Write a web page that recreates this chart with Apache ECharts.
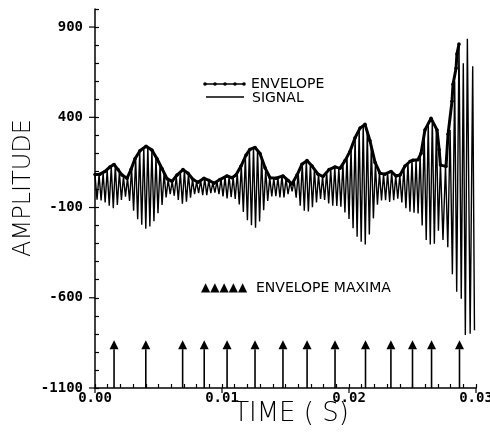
<!DOCTYPE html>
<html>
<head>
<meta charset="utf-8">
<script src="https://cdn.jsdelivr.net/npm/echarts@6/dist/echarts.min.js"></script>
<style>
html,body{margin:0;padding:0;background:#fff}
#chart{width:490px;height:434px}
</style>
</head>
<body>
<div id="chart"></div>
<script>
// Time values are in milliseconds; the x axis labels show seconds.

// Signal: successive crests and troughs of the oscillation
const sigT = [
  0.00,0.16,0.32,0.48,0.64,0.80,0.96,1.12,1.28,1.44,
  1.60,1.76,1.92,2.08,2.24,2.40,2.56,2.72,2.88,3.04,
  3.20,3.36,3.52,3.68,3.84,4.00,4.16,4.32,4.48,4.64,
  4.80,4.96,5.12,5.28,5.44,5.60,5.76,5.92,6.08,6.24,
  6.40,6.56,6.72,6.88,7.04,7.20,7.36,7.52,7.68,7.84,
  8.00,8.16,8.32,8.48,8.64,8.80,8.96,9.12,9.28,9.44,
  9.60,9.76,9.92,10.08,10.24,10.40,10.56,10.72,10.88,11.04,
  11.20,11.36,11.52,11.68,11.84,12.00,12.16,12.32,12.48,12.64,
  12.80,12.96,13.12,13.28,13.44,13.60,13.76,13.92,14.08,14.24,
  14.40,14.56,14.72,14.88,15.04,15.20,15.36,15.52,15.68,15.84,
  16.00,16.16,16.32,16.48,16.64,16.80,16.96,17.12,17.28,17.44,
  17.60,17.76,17.92,18.08,18.24,18.40,18.56,18.72,18.88,19.04,
  19.20,19.36,19.52,19.68,19.84,20.00,20.16,20.32,20.48,20.64,
  20.80,20.96,21.12,21.28,21.44,21.60,21.76,21.92,22.08,22.24,
  22.40,22.56,22.72,22.88,23.04,23.20,23.36,23.52,23.68,23.84,
  24.00,24.16,24.32,24.48,24.64,24.80,24.96,25.12,25.28,25.44,
  25.60,25.76,25.92,26.08,26.24,26.40,26.56,26.72,26.88,27.04,
  27.20,27.40,27.60,27.78,27.96,28.14,28.32,28.48,28.66,28.84,
  29.00,29.16,29.32,29.54,29.74,29.88
];
const sigV = [
  80,-57,82,-61,90,-72,108,-90,126,-104,
  132,-86,98,-58,72,-40,65,-63,115,-118,
  172,-165,210,-195,228,-218,236,-205,215,-176,
  176,-132,134,-86,90,-44,55,-26,45,-35,
  72,-58,94,-79,105,-68,85,-46,56,-26,
  42,-20,50,-32,60,-31,50,-20,38,-17,
  44,-26,58,-39,70,-49,72,-42,68,-52,
  90,-83,130,-125,180,-170,216,-198,230,-212,
  220,-178,172,-115,110,-63,66,-39,62,-37,
  65,-44,74,-44,60,-26,40,-10,50,-46,
  92,-90,140,-118,158,-122,142,-98,110,-72,
  84,-52,72,-58,95,-78,114,-90,124,-92,
  118,-95,140,-127,178,-164,225,-215,285,-262,
  330,-290,354,-305,320,-250,238,-160,140,-85,
  95,-61,86,-60,92,-69,98,-60,76,-51,
  80,-72,118,-104,145,-123,160,-129,164,-133,
  190,-200,305,-280,368,-305,388,-300,338,-228,
  150,-280,135,-320,330,-470,600,-567,806,-605,
  700,-806,835,-800,683,-780
];

// Envelope of the signal
const envT = [
  0.00,0.39,0.79,1.18,1.50,1.81,2.13,2.52,2.83,3.15,
  3.54,4.02,4.49,4.88,5.28,5.67,6.06,6.46,6.93,7.32,
  7.72,8.11,8.58,8.98,9.37,9.84,10.39,10.79,11.10,11.50,
  11.89,12.20,12.60,12.99,13.39,13.78,14.25,14.80,15.20,15.51,
  15.91,16.30,16.69,17.09,17.56,17.95,18.43,18.90,19.29,19.69,
  20.08,20.47,20.87,21.26,21.65,22.05,22.44,22.83,23.31,23.70,
  24.02,24.41,24.80,25.04,25.43,25.67,25.98,26.46,26.93,27.10,
  27.20,27.64,27.80,28.11,28.19,28.43,28.50,28.66
];
const envV = [
  83,85,100,125,139,110,80,62,110,170,
  215,239,218,170,115,60,45,80,110,90,
  55,40,62,50,35,55,75,65,80,130,
  190,222,233,200,120,65,62,75,50,30,
  80,140,160,130,85,72,110,125,117,160,
  211,285,340,361,270,150,90,85,100,75,
  80,130,155,162,165,200,330,394,330,220,
  135,128,306,489,583,672,750,806
];

// Times of the envelope maxima, drawn as arrows
const maximaT = [1.5, 4.0, 6.9, 8.6, 10.4, 12.6, 14.8, 16.7, 18.9, 21.3, 23.3, 25.0, 26.5, 28.7];
const arrowBase = -1100;
const arrowTip = -835;

// Axis labels
const yTickLabels = [-1100, -600, -100, 400, 900];
const xTickMs = [0, 10, 20, 30];
const xTickLabels = ['0.00', '0.01', '0.02', '0.03'];

const INK = '#000';
const tickFont = { fontFamily: 'DejaVu Sans Mono', fontSize: 14, fontWeight: 'bold', color: INK };

const chart = echarts.init(document.getElementById('chart'), null, { renderer: 'canvas' });

// Outward tick marks at the labelled values of both axes
const majorTicks = yTickLabels.map(v => [0, v, 'y']).concat(xTickMs.map(t => [t, -1100, 'x']));

chart.setOption({
  animation: false,
  backgroundColor: '#fff',
  grid: { left: 95, right: 14, top: 9, bottom: 46, containLabel: false, outerBoundsMode: 'none' },
  xAxis: {
    type: 'value', min: 0, max: 30, interval: 1,
    axisLine: { show: true, onZero: false, lineStyle: { color: INK, width: 1.5 } },
    axisTick: { show: true, inside: true, length: 4, lineStyle: { color: INK, width: 1.2 } },
    splitLine: { show: false },
    axisLabel: Object.assign({
      margin: 3,
      showMinLabel: true, showMaxLabel: true,
      formatter: v => {
        const i = xTickMs.indexOf(Math.round(v));
        return i >= 0 ? xTickLabels[i] : '';
      }
    }, tickFont)
  },
  yAxis: {
    type: 'value', min: -1100, max: 1000, interval: 100,
    axisLine: { show: true, onZero: false, lineStyle: { color: INK, width: 1.5 } },
    axisTick: { show: true, inside: true, length: 4, lineStyle: { color: INK, width: 1.2 } },
    splitLine: { show: false },
    axisLabel: Object.assign({
      margin: 12,
      showMinLabel: true, showMaxLabel: true,
      formatter: v => (yTickLabels.indexOf(Math.round(v)) >= 0 ? String(Math.round(v)) : '')
    }, tickFont)
  },
  series: [
    {
      name: 'SIGNAL', type: 'line',
      data: sigT.map((t, i) => [t, sigV[i]]),
      showSymbol: false, symbol: 'none',
      lineStyle: { color: INK, width: 1.4 },
      z: 2
    },
    {
      name: 'ENVELOPE', type: 'line',
      data: envT.map((t, i) => [t, envV[i]]),
      symbol: 'circle', symbolSize: 3.5, showAllSymbol: true,
      itemStyle: { color: INK },
      lineStyle: { color: INK, width: 3 },
      z: 3
    },
    {
      name: 'ENVELOPE MAXIMA', type: 'custom',
      data: maximaT.map(t => [t, arrowTip]),
      encode: { x: 0, y: 1 },
      renderItem: (params, api) => {
        const t = api.value(0);
        const base = api.coord([t, arrowBase]);
        const tip = api.coord([t, api.value(1)]);
        const headH = 9, headW = 4.5;
        return {
          type: 'group',
          children: [
            { type: 'line', shape: { x1: base[0], y1: base[1], x2: tip[0], y2: tip[1] + headH },
              style: { stroke: INK, lineWidth: 1.6 } },
            { type: 'polygon', shape: { points: [[tip[0], tip[1]], [tip[0] - headW, tip[1] + headH], [tip[0] + headW, tip[1] + headH]] },
              style: { fill: INK } }
          ]
        };
      },
      z: 4
    },
    {
      name: 'major ticks', type: 'custom', clip: false, silent: true,
      data: majorTicks,
      encode: { x: 0, y: 1 },
      renderItem: (params, api) => {
        const p = api.coord([api.value(0), api.value(1)]);
        const isY = majorTicks[params.dataIndex][2] === 'y';
        const shape = isY ? { x1: p[0] - 6, y1: p[1], x2: p[0], y2: p[1] }
                          : { x1: p[0], y1: p[1], x2: p[0], y2: p[1] + 5 };
        return { type: 'line', shape: shape, style: { stroke: INK, lineWidth: 1.2 } };
      },
      z: 5
    }
  ],
  graphic: [
    // legend: envelope (dotted line) and signal (plain line)
    { type: 'polyline', shape: { points: [[204, 84], [245, 84]] }, style: { stroke: INK, lineWidth: 1.5 } },
    { type: 'circle', shape: { cx: 205, cy: 84, r: 1.8 }, style: { fill: INK } },
    { type: 'circle', shape: { cx: 215, cy: 84, r: 1.8 }, style: { fill: INK } },
    { type: 'circle', shape: { cx: 225, cy: 84, r: 1.8 }, style: { fill: INK } },
    { type: 'circle', shape: { cx: 235, cy: 84, r: 1.8 }, style: { fill: INK } },
    { type: 'circle', shape: { cx: 244, cy: 84, r: 1.8 }, style: { fill: INK } },
    { type: 'text', x: 251, y: 84, style: { text: 'ENVELOPE', font: '14px "DejaVu Sans"', fill: INK, textVerticalAlign: 'middle' } },
    { type: 'polyline', shape: { points: [[206, 97], [244, 97]] }, style: { stroke: INK, lineWidth: 1.5 } },
    { type: 'text', x: 252, y: 98, style: { text: 'SIGNAL', font: '14px "DejaVu Sans"', fill: INK, textVerticalAlign: 'middle' } },
    // legend: envelope maxima
    { type: 'text', x: 201, y: 288, style: { text: '▲▲▲▲▲', font: '12px "DejaVu Sans"', fill: INK, textVerticalAlign: 'middle' } },
    { type: 'text', x: 256, y: 288, style: { text: 'ENVELOPE MAXIMA', font: '14px "DejaVu Sans"', fill: INK, textVerticalAlign: 'middle' } },
    // axis titles
    { type: 'text', x: 24, y: 188, rotation: Math.PI / 2,
      style: { text: 'AMPLITUDE', font: '200 24px "DejaVu Sans"', fill: INK, textAlign: 'center', textVerticalAlign: 'middle' } },
    { type: 'text', x: 291, y: 414,
      style: { text: 'TIME ( S)', font: '200 26px "DejaVu Sans"', fill: INK, textAlign: 'center', textVerticalAlign: 'middle' } }
  ]
});
</script>
</body>
</html>
